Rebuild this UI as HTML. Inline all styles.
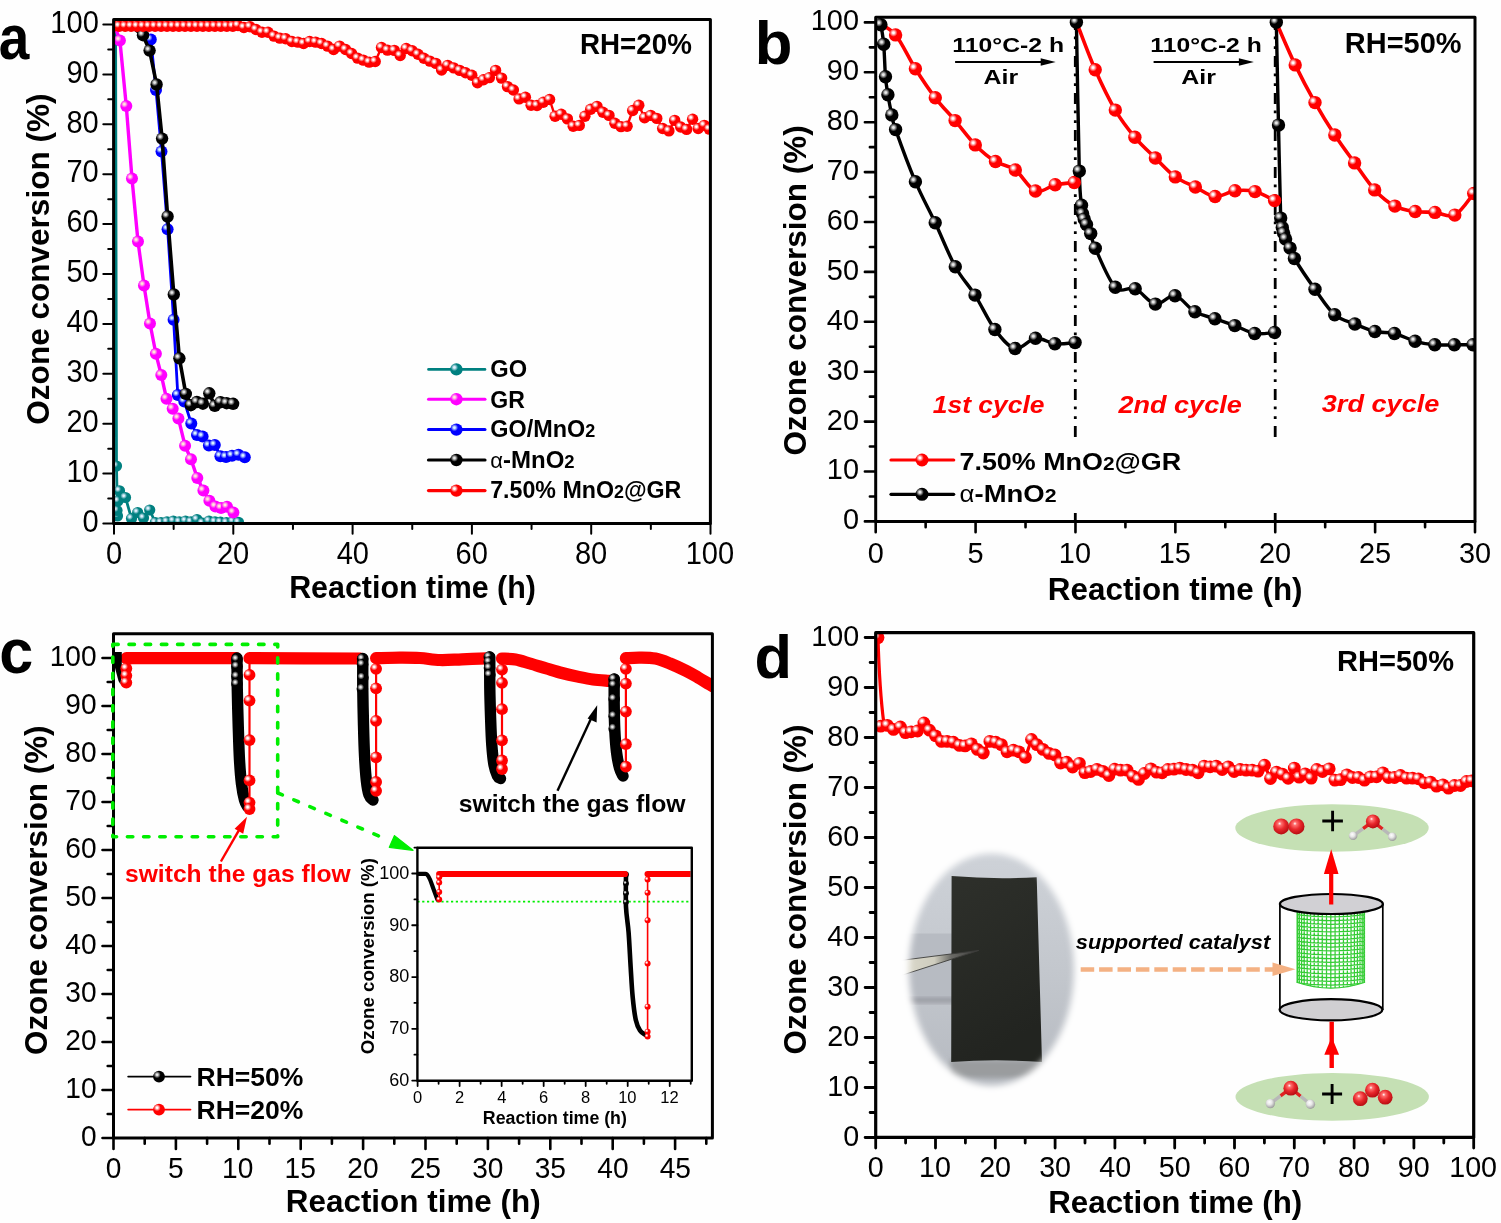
<!DOCTYPE html>
<html><head><meta charset="utf-8"><title>Ozone conversion</title>
<style>html,body{margin:0;padding:0;background:#fff;}svg{display:block;}</style></head>
<body><svg width="1501" height="1223" viewBox="0 0 1501 1223" font-family="'Liberation Sans', Arial, sans-serif">
<defs><radialGradient id="gR" cx="0.34" cy="0.34" r="0.3" fx="0.34" fy="0.34"><stop offset="0" stop-color="#ffffff"/><stop offset="0.22" stop-color="#ffffff"/><stop offset="1" stop-color="#ff0000"/></radialGradient><radialGradient id="gK" cx="0.34" cy="0.34" r="0.3" fx="0.34" fy="0.34"><stop offset="0" stop-color="#e8e8e8"/><stop offset="0.22" stop-color="#e8e8e8"/><stop offset="1" stop-color="#000000"/></radialGradient><radialGradient id="gT" cx="0.34" cy="0.34" r="0.3" fx="0.34" fy="0.34"><stop offset="0" stop-color="#e0f0ff"/><stop offset="0.22" stop-color="#e0f0ff"/><stop offset="1" stop-color="#008080"/></radialGradient><radialGradient id="gM" cx="0.34" cy="0.34" r="0.3" fx="0.34" fy="0.34"><stop offset="0" stop-color="#ffe8d8"/><stop offset="0.22" stop-color="#ffe8d8"/><stop offset="1" stop-color="#ff00ff"/></radialGradient><radialGradient id="gB" cx="0.34" cy="0.34" r="0.3" fx="0.34" fy="0.34"><stop offset="0" stop-color="#d8f4ff"/><stop offset="0.22" stop-color="#d8f4ff"/><stop offset="1" stop-color="#0000ff"/></radialGradient><radialGradient id="gO" cx="0.42" cy="0.38" r="0.62" fx="0.4" fy="0.32"><stop offset="0" stop-color="#ffffff"/><stop offset="0.18" stop-color="#ff7070"/><stop offset="0.55" stop-color="#e8282c"/><stop offset="1" stop-color="#b80c12"/></radialGradient><radialGradient id="gH" cx="0.42" cy="0.38" r="0.62" fx="0.4" fy="0.32"><stop offset="0" stop-color="#ffffff"/><stop offset="0.45" stop-color="#e6e6e6"/><stop offset="1" stop-color="#9a9a9a"/></radialGradient><linearGradient id="gBg" x1="0" y1="0" x2="0" y2="1"><stop offset="0" stop-color="#d0d4da"/><stop offset="0.5" stop-color="#c3c7cd"/><stop offset="1" stop-color="#b3b7be"/></linearGradient><linearGradient id="gTw" x1="0" y1="0" x2="1" y2="0"><stop offset="0" stop-color="#e2e0d2"/><stop offset="0.55" stop-color="#cfcdbf"/><stop offset="0.72" stop-color="#6a6a66"/><stop offset="1" stop-color="#3a3a38"/></linearGradient><linearGradient id="gSh" x1="0" y1="0" x2="0.3" y2="1"><stop offset="0" stop-color="#2e302b"/><stop offset="1" stop-color="#222420"/></linearGradient><filter id="fBl" x="-20%" y="-20%" width="140%" height="140%"><feGaussianBlur stdDeviation="3.2"/></filter><filter id="fBl2" x="-20%" y="-50%" width="140%" height="200%"><feGaussianBlur stdDeviation="2.5"/></filter><mask id="mPh" maskUnits="userSpaceOnUse" x="880" y="830" width="220" height="280"><ellipse cx="991.5" cy="969.5" rx="82.5" ry="116" fill="#fff" filter="url(#fBl)"/></mask><clipPath id="cMesh"><path d="M1296.5,905 V982.3 Q1330.8,994 1365.1,982.3 V905 Z"/></clipPath><clipPath id="cp0"><rect x="113.6" y="19.4" width="596.8" height="504.1"/></clipPath><clipPath id="cp1"><rect x="875.7" y="17.3" width="599.3" height="504.2"/></clipPath><clipPath id="cp2"><rect x="113.5" y="633.8" width="598.9" height="504.20000000000005"/></clipPath><clipPath id="cp3"><rect x="875.7" y="632.7" width="598.0" height="504.70000000000005"/></clipPath></defs>
<rect width="1501" height="1223" fill="#fefefe"/>
<g clip-path="url(#cp0)"><path d="M115.60,24.50 L116.50,466.00 L117.50,516.00 L117.00,510.50 L118.00,501.00 L119.50,490.80 L125.50,497.50 L131.50,518.50 L137.70,512.50 L143.50,518.00 L149.70,510.00 L155.30,522.50 L161.00,522.50 L167.00,521.80 L173.30,521.00 L179.30,521.80 L185.50,521.00 L191.00,521.80 L197.00,519.50 L202.50,523.00 L209.00,521.00 L215.00,521.80 L220.50,522.20 L226.50,522.50 L233.00,521.50 L238.50,522.30" stroke="#008080" stroke-width="2.8" fill="none" stroke-linejoin="round"/><circle cx="116.50" cy="466.00" r="5.6" fill="url(#gT)"/><circle cx="117.50" cy="516.00" r="5.6" fill="url(#gT)"/><circle cx="117.00" cy="510.50" r="5.6" fill="url(#gT)"/><circle cx="118.00" cy="501.00" r="5.6" fill="url(#gT)"/><circle cx="119.50" cy="490.80" r="5.6" fill="url(#gT)"/><circle cx="125.50" cy="497.50" r="5.6" fill="url(#gT)"/><circle cx="131.50" cy="518.50" r="5.6" fill="url(#gT)"/><circle cx="137.70" cy="512.50" r="5.6" fill="url(#gT)"/><circle cx="143.50" cy="518.00" r="5.6" fill="url(#gT)"/><circle cx="149.70" cy="510.00" r="5.6" fill="url(#gT)"/><circle cx="155.30" cy="522.50" r="5.6" fill="url(#gT)"/><circle cx="161.00" cy="522.50" r="5.6" fill="url(#gT)"/><circle cx="167.00" cy="521.80" r="5.6" fill="url(#gT)"/><circle cx="173.30" cy="521.00" r="5.6" fill="url(#gT)"/><circle cx="179.30" cy="521.80" r="5.6" fill="url(#gT)"/><circle cx="185.50" cy="521.00" r="5.6" fill="url(#gT)"/><circle cx="191.00" cy="521.80" r="5.6" fill="url(#gT)"/><circle cx="197.00" cy="519.50" r="5.6" fill="url(#gT)"/><circle cx="202.50" cy="523.00" r="5.6" fill="url(#gT)"/><circle cx="209.00" cy="521.00" r="5.6" fill="url(#gT)"/><circle cx="215.00" cy="521.80" r="5.6" fill="url(#gT)"/><circle cx="220.50" cy="522.20" r="5.6" fill="url(#gT)"/><circle cx="226.50" cy="522.50" r="5.6" fill="url(#gT)"/><circle cx="233.00" cy="521.50" r="5.6" fill="url(#gT)"/><circle cx="238.50" cy="522.30" r="5.6" fill="url(#gT)"/><path d="M114.50,25.00 L119.90,40.50 L126.30,106.10 L132.00,178.60 L138.00,241.50 L144.00,285.50 L150.00,323.50 L155.90,353.80 L161.30,375.10 L166.50,398.70 L172.70,408.70 L178.40,418.40 L185.10,445.80 L191.00,459.30 L197.30,477.90 L203.40,490.50 L209.40,500.80 L215.40,506.50 L221.10,508.00 L227.00,506.80 L233.40,512.60" stroke="#ff00ff" stroke-width="3.4" fill="none" stroke-linejoin="round"/><circle cx="119.90" cy="40.50" r="6.0" fill="url(#gM)"/><circle cx="126.30" cy="106.10" r="6.0" fill="url(#gM)"/><circle cx="132.00" cy="178.60" r="6.0" fill="url(#gM)"/><circle cx="138.00" cy="241.50" r="6.0" fill="url(#gM)"/><circle cx="144.00" cy="285.50" r="6.0" fill="url(#gM)"/><circle cx="150.00" cy="323.50" r="6.0" fill="url(#gM)"/><circle cx="155.90" cy="353.80" r="6.0" fill="url(#gM)"/><circle cx="161.30" cy="375.10" r="6.0" fill="url(#gM)"/><circle cx="166.50" cy="398.70" r="6.0" fill="url(#gM)"/><circle cx="172.70" cy="408.70" r="6.0" fill="url(#gM)"/><circle cx="178.40" cy="418.40" r="6.0" fill="url(#gM)"/><circle cx="185.10" cy="445.80" r="6.0" fill="url(#gM)"/><circle cx="191.00" cy="459.30" r="6.0" fill="url(#gM)"/><circle cx="197.30" cy="477.90" r="6.0" fill="url(#gM)"/><circle cx="203.40" cy="490.50" r="6.0" fill="url(#gM)"/><circle cx="209.40" cy="500.80" r="6.0" fill="url(#gM)"/><circle cx="215.40" cy="506.50" r="6.0" fill="url(#gM)"/><circle cx="221.10" cy="508.00" r="6.0" fill="url(#gM)"/><circle cx="227.00" cy="506.80" r="6.0" fill="url(#gM)"/><circle cx="233.40" cy="512.60" r="6.0" fill="url(#gM)"/><path d="M114.50,25.00 L120.00,25.00 L126.00,25.00 L132.00,25.50 L138.00,27.00 L144.00,31.00 L150.80,39.50 L156.00,90.00 L161.50,151.50 L167.60,229.20 L173.60,319.80 L177.80,395.00 L184.30,401.50 L191.30,423.50 L197.00,435.00 L202.60,436.50 L208.90,445.60 L214.80,445.00 L220.40,456.20 L226.00,457.00 L232.00,455.70 L238.50,454.80 L244.80,457.30" stroke="#0000ff" stroke-width="2.8" fill="none" stroke-linejoin="round"/><circle cx="150.80" cy="39.50" r="6.0" fill="url(#gB)"/><circle cx="156.00" cy="90.00" r="6.0" fill="url(#gB)"/><circle cx="161.50" cy="151.50" r="6.0" fill="url(#gB)"/><circle cx="167.60" cy="229.20" r="6.0" fill="url(#gB)"/><circle cx="173.60" cy="319.80" r="6.0" fill="url(#gB)"/><circle cx="177.80" cy="395.00" r="6.0" fill="url(#gB)"/><circle cx="184.30" cy="401.50" r="6.0" fill="url(#gB)"/><circle cx="191.30" cy="423.50" r="6.0" fill="url(#gB)"/><circle cx="197.00" cy="435.00" r="6.0" fill="url(#gB)"/><circle cx="202.60" cy="436.50" r="6.0" fill="url(#gB)"/><circle cx="208.90" cy="445.60" r="6.0" fill="url(#gB)"/><circle cx="214.80" cy="445.00" r="6.0" fill="url(#gB)"/><circle cx="220.40" cy="456.20" r="6.0" fill="url(#gB)"/><circle cx="226.00" cy="457.00" r="6.0" fill="url(#gB)"/><circle cx="232.00" cy="455.70" r="6.0" fill="url(#gB)"/><circle cx="238.50" cy="454.80" r="6.0" fill="url(#gB)"/><circle cx="244.80" cy="457.30" r="6.0" fill="url(#gB)"/><path d="M114.50,25.00 L120.00,25.00 L126.00,25.00 L132.00,27.00 L143.00,35.20 L149.60,50.60 L156.60,84.50 L162.10,138.60 L167.60,216.50 L173.80,294.50 L179.40,358.30 L185.80,393.90 L190.80,405.20 L196.90,402.00 L202.90,403.70 L209.30,393.30 L214.80,405.90 L220.50,402.20 L226.60,403.20 L233.10,403.80" stroke="#000" stroke-width="3.6" fill="none" stroke-linejoin="round"/><circle cx="143.00" cy="35.20" r="6.2" fill="url(#gK)"/><circle cx="149.60" cy="50.60" r="6.2" fill="url(#gK)"/><circle cx="156.60" cy="84.50" r="6.2" fill="url(#gK)"/><circle cx="162.10" cy="138.60" r="6.2" fill="url(#gK)"/><circle cx="167.60" cy="216.50" r="6.2" fill="url(#gK)"/><circle cx="173.80" cy="294.50" r="6.2" fill="url(#gK)"/><circle cx="179.40" cy="358.30" r="6.2" fill="url(#gK)"/><circle cx="185.80" cy="393.90" r="6.2" fill="url(#gK)"/><circle cx="190.80" cy="405.20" r="6.2" fill="url(#gK)"/><circle cx="196.90" cy="402.00" r="6.2" fill="url(#gK)"/><circle cx="202.90" cy="403.70" r="6.2" fill="url(#gK)"/><circle cx="209.30" cy="393.30" r="6.2" fill="url(#gK)"/><circle cx="214.80" cy="405.90" r="6.2" fill="url(#gK)"/><circle cx="220.50" cy="402.20" r="6.2" fill="url(#gK)"/><circle cx="226.60" cy="403.20" r="6.2" fill="url(#gK)"/><circle cx="233.10" cy="403.80" r="6.2" fill="url(#gK)"/><path d="M113.20,26.30 L119.18,26.30 L125.16,26.30 L131.14,26.30 L137.12,26.30 L143.10,26.30 L149.08,26.30 L155.06,26.30 L161.04,26.30 L167.02,26.30 L173.00,26.30 L178.98,26.30 L184.96,26.30 L190.94,26.30 L196.92,26.30 L202.90,26.30 L208.88,26.30 L214.86,26.30 L220.84,26.30 L226.82,26.30 L232.80,26.30 L238.00,25.50 L243.90,27.50 L250.00,26.80 L256.00,29.50 L262.00,32.20 L268.00,32.20 L274.00,36.10 L279.90,38.10 L285.70,38.80 L291.90,41.50 L297.90,42.10 L303.60,43.50 L309.60,41.50 L315.60,42.10 L321.60,43.50 L327.60,46.10 L333.60,49.50 L339.60,46.10 L345.60,49.50 L351.60,53.50 L357.60,58.10 L363.30,60.10 L369.20,62.10 L375.20,61.50 L381.50,47.50 L387.50,50.10 L394.30,50.40 L400.20,55.50 L406.20,48.50 L412.20,50.70 L418.00,54.30 L423.90,58.30 L429.90,61.10 L435.90,63.40 L441.60,70.00 L447.70,65.40 L453.70,67.90 L459.70,70.40 L465.60,72.70 L471.80,75.30 L477.50,82.70 L483.50,79.80 L489.40,77.60 L495.60,70.40 L501.60,78.10 L507.50,86.60 L513.40,90.00 L519.10,98.90 L525.40,97.20 L531.10,105.30 L537.00,105.50 L543.30,102.20 L549.60,99.50 L555.10,116.30 L561.20,114.20 L567.40,118.90 L573.20,126.20 L579.30,125.40 L584.90,116.30 L590.70,109.30 L597.00,106.40 L602.90,112.20 L609.00,115.40 L614.90,123.30 L621.00,126.60 L627.10,126.20 L632.70,110.50 L638.80,105.20 L644.60,117.70 L650.70,115.40 L656.80,118.40 L662.70,128.50 L668.90,130.90 L674.70,120.40 L680.70,127.00 L686.60,129.40 L692.60,119.20 L698.20,128.50 L704.30,125.40 L709.30,129.10" stroke="#ff0000" stroke-width="2.4" fill="none" stroke-linejoin="round"/><circle cx="113.20" cy="26.30" r="5.7" fill="url(#gR)"/><circle cx="119.18" cy="26.30" r="5.7" fill="url(#gR)"/><circle cx="125.16" cy="26.30" r="5.7" fill="url(#gR)"/><circle cx="131.14" cy="26.30" r="5.7" fill="url(#gR)"/><circle cx="137.12" cy="26.30" r="5.7" fill="url(#gR)"/><circle cx="143.10" cy="26.30" r="5.7" fill="url(#gR)"/><circle cx="149.08" cy="26.30" r="5.7" fill="url(#gR)"/><circle cx="155.06" cy="26.30" r="5.7" fill="url(#gR)"/><circle cx="161.04" cy="26.30" r="5.7" fill="url(#gR)"/><circle cx="167.02" cy="26.30" r="5.7" fill="url(#gR)"/><circle cx="173.00" cy="26.30" r="5.7" fill="url(#gR)"/><circle cx="178.98" cy="26.30" r="5.7" fill="url(#gR)"/><circle cx="184.96" cy="26.30" r="5.7" fill="url(#gR)"/><circle cx="190.94" cy="26.30" r="5.7" fill="url(#gR)"/><circle cx="196.92" cy="26.30" r="5.7" fill="url(#gR)"/><circle cx="202.90" cy="26.30" r="5.7" fill="url(#gR)"/><circle cx="208.88" cy="26.30" r="5.7" fill="url(#gR)"/><circle cx="214.86" cy="26.30" r="5.7" fill="url(#gR)"/><circle cx="220.84" cy="26.30" r="5.7" fill="url(#gR)"/><circle cx="226.82" cy="26.30" r="5.7" fill="url(#gR)"/><circle cx="232.80" cy="26.30" r="5.7" fill="url(#gR)"/><circle cx="238.00" cy="25.50" r="5.7" fill="url(#gR)"/><circle cx="243.90" cy="27.50" r="5.7" fill="url(#gR)"/><circle cx="250.00" cy="26.80" r="5.7" fill="url(#gR)"/><circle cx="256.00" cy="29.50" r="5.7" fill="url(#gR)"/><circle cx="262.00" cy="32.20" r="5.7" fill="url(#gR)"/><circle cx="268.00" cy="32.20" r="5.7" fill="url(#gR)"/><circle cx="274.00" cy="36.10" r="5.7" fill="url(#gR)"/><circle cx="279.90" cy="38.10" r="5.7" fill="url(#gR)"/><circle cx="285.70" cy="38.80" r="5.7" fill="url(#gR)"/><circle cx="291.90" cy="41.50" r="5.7" fill="url(#gR)"/><circle cx="297.90" cy="42.10" r="5.7" fill="url(#gR)"/><circle cx="303.60" cy="43.50" r="5.7" fill="url(#gR)"/><circle cx="309.60" cy="41.50" r="5.7" fill="url(#gR)"/><circle cx="315.60" cy="42.10" r="5.7" fill="url(#gR)"/><circle cx="321.60" cy="43.50" r="5.7" fill="url(#gR)"/><circle cx="327.60" cy="46.10" r="5.7" fill="url(#gR)"/><circle cx="333.60" cy="49.50" r="5.7" fill="url(#gR)"/><circle cx="339.60" cy="46.10" r="5.7" fill="url(#gR)"/><circle cx="345.60" cy="49.50" r="5.7" fill="url(#gR)"/><circle cx="351.60" cy="53.50" r="5.7" fill="url(#gR)"/><circle cx="357.60" cy="58.10" r="5.7" fill="url(#gR)"/><circle cx="363.30" cy="60.10" r="5.7" fill="url(#gR)"/><circle cx="369.20" cy="62.10" r="5.7" fill="url(#gR)"/><circle cx="375.20" cy="61.50" r="5.7" fill="url(#gR)"/><circle cx="381.50" cy="47.50" r="5.7" fill="url(#gR)"/><circle cx="387.50" cy="50.10" r="5.7" fill="url(#gR)"/><circle cx="394.30" cy="50.40" r="5.7" fill="url(#gR)"/><circle cx="400.20" cy="55.50" r="5.7" fill="url(#gR)"/><circle cx="406.20" cy="48.50" r="5.7" fill="url(#gR)"/><circle cx="412.20" cy="50.70" r="5.7" fill="url(#gR)"/><circle cx="418.00" cy="54.30" r="5.7" fill="url(#gR)"/><circle cx="423.90" cy="58.30" r="5.7" fill="url(#gR)"/><circle cx="429.90" cy="61.10" r="5.7" fill="url(#gR)"/><circle cx="435.90" cy="63.40" r="5.7" fill="url(#gR)"/><circle cx="441.60" cy="70.00" r="5.7" fill="url(#gR)"/><circle cx="447.70" cy="65.40" r="5.7" fill="url(#gR)"/><circle cx="453.70" cy="67.90" r="5.7" fill="url(#gR)"/><circle cx="459.70" cy="70.40" r="5.7" fill="url(#gR)"/><circle cx="465.60" cy="72.70" r="5.7" fill="url(#gR)"/><circle cx="471.80" cy="75.30" r="5.7" fill="url(#gR)"/><circle cx="477.50" cy="82.70" r="5.7" fill="url(#gR)"/><circle cx="483.50" cy="79.80" r="5.7" fill="url(#gR)"/><circle cx="489.40" cy="77.60" r="5.7" fill="url(#gR)"/><circle cx="495.60" cy="70.40" r="5.7" fill="url(#gR)"/><circle cx="501.60" cy="78.10" r="5.7" fill="url(#gR)"/><circle cx="507.50" cy="86.60" r="5.7" fill="url(#gR)"/><circle cx="513.40" cy="90.00" r="5.7" fill="url(#gR)"/><circle cx="519.10" cy="98.90" r="5.7" fill="url(#gR)"/><circle cx="525.40" cy="97.20" r="5.7" fill="url(#gR)"/><circle cx="531.10" cy="105.30" r="5.7" fill="url(#gR)"/><circle cx="537.00" cy="105.50" r="5.7" fill="url(#gR)"/><circle cx="543.30" cy="102.20" r="5.7" fill="url(#gR)"/><circle cx="549.60" cy="99.50" r="5.7" fill="url(#gR)"/><circle cx="555.10" cy="116.30" r="5.7" fill="url(#gR)"/><circle cx="561.20" cy="114.20" r="5.7" fill="url(#gR)"/><circle cx="567.40" cy="118.90" r="5.7" fill="url(#gR)"/><circle cx="573.20" cy="126.20" r="5.7" fill="url(#gR)"/><circle cx="579.30" cy="125.40" r="5.7" fill="url(#gR)"/><circle cx="584.90" cy="116.30" r="5.7" fill="url(#gR)"/><circle cx="590.70" cy="109.30" r="5.7" fill="url(#gR)"/><circle cx="597.00" cy="106.40" r="5.7" fill="url(#gR)"/><circle cx="602.90" cy="112.20" r="5.7" fill="url(#gR)"/><circle cx="609.00" cy="115.40" r="5.7" fill="url(#gR)"/><circle cx="614.90" cy="123.30" r="5.7" fill="url(#gR)"/><circle cx="621.00" cy="126.60" r="5.7" fill="url(#gR)"/><circle cx="627.10" cy="126.20" r="5.7" fill="url(#gR)"/><circle cx="632.70" cy="110.50" r="5.7" fill="url(#gR)"/><circle cx="638.80" cy="105.20" r="5.7" fill="url(#gR)"/><circle cx="644.60" cy="117.70" r="5.7" fill="url(#gR)"/><circle cx="650.70" cy="115.40" r="5.7" fill="url(#gR)"/><circle cx="656.80" cy="118.40" r="5.7" fill="url(#gR)"/><circle cx="662.70" cy="128.50" r="5.7" fill="url(#gR)"/><circle cx="668.90" cy="130.90" r="5.7" fill="url(#gR)"/><circle cx="674.70" cy="120.40" r="5.7" fill="url(#gR)"/><circle cx="680.70" cy="127.00" r="5.7" fill="url(#gR)"/><circle cx="686.60" cy="129.40" r="5.7" fill="url(#gR)"/><circle cx="692.60" cy="119.20" r="5.7" fill="url(#gR)"/><circle cx="698.20" cy="128.50" r="5.7" fill="url(#gR)"/><circle cx="704.30" cy="125.40" r="5.7" fill="url(#gR)"/><circle cx="709.30" cy="129.10" r="5.7" fill="url(#gR)"/></g><g clip-path="url(#cp1)"><path d="M1075.3,19 V437.5 M1075.3,513 V520" stroke="#000" stroke-width="2.8" stroke-dasharray="11 6.4 2.8 7 2.8 7" fill="none"/><path d="M1275.2,19 V437.5 M1275.2,513 V520" stroke="#000" stroke-width="2.8" stroke-dasharray="11 6.4 2.8 7 2.8 7" fill="none"/><path d="M880.90,24.80 C881.37,28.03 882.93,35.53 883.70,44.20 C884.47,52.87 884.80,68.38 885.50,76.80 C886.20,85.22 886.85,88.35 887.90,94.70 C888.95,101.05 890.52,109.08 891.80,114.90 C893.08,120.72 891.67,118.47 895.60,129.60 C899.53,140.73 908.80,166.17 915.40,181.70 C922.00,197.23 928.55,208.63 935.20,222.80 C941.85,236.97 948.67,254.65 955.30,266.70 C961.93,278.75 968.40,284.63 975.00,295.10 C981.60,305.57 988.22,320.60 994.90,329.50 C1001.58,338.40 1008.33,347.03 1015.10,348.50 C1021.87,349.97 1028.87,339.10 1035.50,338.30 C1042.13,337.50 1048.30,342.98 1054.90,343.70 C1061.50,344.42 1071.73,342.78 1075.10,342.60" stroke="#000" stroke-width="3.4" fill="none"/><path d="M1076.40,22.30 C1076.88,47.10 1078.45,140.60 1079.30,171.10 C1080.15,201.60 1080.95,198.20 1081.50,205.30 C1082.05,212.40 1082.15,211.40 1082.60,213.70 C1083.05,216.00 1083.55,217.32 1084.20,219.10 C1084.85,220.88 1085.42,221.98 1086.50,224.40 C1087.58,226.82 1089.23,229.63 1090.70,233.60 C1092.17,237.57 1091.20,239.25 1095.30,248.20 C1099.40,257.15 1108.65,280.53 1115.30,287.30 C1121.95,294.07 1128.52,286.00 1135.20,288.80 C1141.88,291.60 1148.77,302.95 1155.40,304.10 C1162.03,305.25 1168.42,294.42 1175.00,295.70 C1181.58,296.98 1188.25,307.97 1194.90,311.80 C1201.55,315.63 1208.25,316.40 1214.90,318.70 C1221.55,321.00 1228.17,323.13 1234.80,325.60 C1241.43,328.07 1248.07,332.35 1254.70,333.50 C1261.33,334.65 1271.28,332.67 1274.60,332.50" stroke="#000" stroke-width="3.4" fill="none"/><path d="M1276.30,22.30 C1276.67,39.43 1277.77,92.47 1278.50,125.10 C1279.23,157.73 1280.07,201.03 1280.70,218.10 C1281.33,235.17 1281.82,225.02 1282.30,227.50 C1282.78,229.98 1283.05,231.10 1283.60,233.00 C1284.15,234.90 1284.52,236.38 1285.60,238.90 C1286.68,241.42 1288.63,244.83 1290.10,248.10 C1291.57,251.37 1290.25,251.63 1294.40,258.50 C1298.55,265.37 1308.28,279.92 1315.00,289.30 C1321.72,298.68 1328.05,309.02 1334.70,314.80 C1341.35,320.58 1348.20,321.22 1354.90,324.00 C1361.60,326.78 1368.30,329.92 1374.90,331.50 C1381.50,333.08 1387.80,331.87 1394.50,333.50 C1401.20,335.13 1408.38,339.42 1415.10,341.30 C1421.82,343.18 1428.25,344.22 1434.80,344.80 C1441.35,345.38 1448.03,344.80 1454.40,344.80 C1460.77,344.80 1469.90,344.80 1473.00,344.80" stroke="#000" stroke-width="3.4" fill="none"/><path d="M878.50,23.50 C881.35,25.40 889.45,27.37 895.60,34.90 C901.75,42.43 908.78,58.22 915.40,68.70 C922.02,79.18 928.68,89.15 935.30,97.80 C941.92,106.45 948.43,112.75 955.10,120.60 C961.77,128.45 968.57,138.08 975.30,144.90 C982.03,151.72 988.83,157.32 995.50,161.50 C1002.17,165.68 1008.63,165.08 1015.30,170.00 C1021.97,174.92 1028.85,188.53 1035.50,191.00 C1042.15,193.47 1048.73,186.22 1055.20,184.80 C1061.67,183.38 1071.12,182.88 1074.30,182.50" stroke="#ff0000" stroke-width="3.6" fill="none"/><path d="M1078.00,26.00 C1080.87,33.28 1088.98,55.68 1095.20,69.70 C1101.42,83.72 1108.68,98.83 1115.30,110.10 C1121.92,121.37 1128.22,129.32 1134.90,137.30 C1141.58,145.28 1148.67,151.40 1155.40,158.00 C1162.13,164.60 1168.63,172.07 1175.30,176.90 C1181.97,181.73 1188.77,183.73 1195.40,187.00 C1202.03,190.27 1208.50,195.87 1215.10,196.50 C1221.70,197.13 1228.35,191.62 1235.00,190.80 C1241.65,189.98 1248.40,189.97 1255.00,191.60 C1261.60,193.23 1271.33,199.10 1274.60,200.60" stroke="#ff0000" stroke-width="3.6" fill="none"/><path d="M1277.50,25.00 C1280.45,31.65 1288.95,51.97 1295.20,64.90 C1301.45,77.83 1308.40,90.92 1315.00,102.60 C1321.60,114.28 1328.20,124.95 1334.80,135.00 C1341.40,145.05 1347.95,153.75 1354.60,162.90 C1361.25,172.05 1367.98,182.70 1374.70,189.90 C1381.42,197.10 1388.15,202.50 1394.90,206.10 C1401.65,209.70 1408.52,210.45 1415.20,211.50 C1421.88,212.55 1428.40,211.80 1435.00,212.40 C1441.60,213.00 1448.35,218.25 1454.80,215.10 C1461.25,211.95 1470.55,197.10 1473.70,193.50" stroke="#ff0000" stroke-width="3.6" fill="none"/><circle cx="895.60" cy="34.90" r="6.7" fill="url(#gR)"/><circle cx="915.40" cy="68.70" r="6.7" fill="url(#gR)"/><circle cx="935.30" cy="97.80" r="6.7" fill="url(#gR)"/><circle cx="955.10" cy="120.60" r="6.7" fill="url(#gR)"/><circle cx="975.30" cy="144.90" r="6.7" fill="url(#gR)"/><circle cx="995.50" cy="161.50" r="6.7" fill="url(#gR)"/><circle cx="1015.30" cy="170.00" r="6.7" fill="url(#gR)"/><circle cx="1035.50" cy="191.00" r="6.7" fill="url(#gR)"/><circle cx="1055.20" cy="184.80" r="6.7" fill="url(#gR)"/><circle cx="1074.30" cy="182.50" r="6.7" fill="url(#gR)"/><circle cx="1095.20" cy="69.70" r="6.7" fill="url(#gR)"/><circle cx="1115.30" cy="110.10" r="6.7" fill="url(#gR)"/><circle cx="1134.90" cy="137.30" r="6.7" fill="url(#gR)"/><circle cx="1155.40" cy="158.00" r="6.7" fill="url(#gR)"/><circle cx="1175.30" cy="176.90" r="6.7" fill="url(#gR)"/><circle cx="1195.40" cy="187.00" r="6.7" fill="url(#gR)"/><circle cx="1215.10" cy="196.50" r="6.7" fill="url(#gR)"/><circle cx="1235.00" cy="190.80" r="6.7" fill="url(#gR)"/><circle cx="1255.00" cy="191.60" r="6.7" fill="url(#gR)"/><circle cx="1274.60" cy="200.60" r="6.7" fill="url(#gR)"/><circle cx="1295.20" cy="64.90" r="6.7" fill="url(#gR)"/><circle cx="1315.00" cy="102.60" r="6.7" fill="url(#gR)"/><circle cx="1334.80" cy="135.00" r="6.7" fill="url(#gR)"/><circle cx="1354.60" cy="162.90" r="6.7" fill="url(#gR)"/><circle cx="1374.70" cy="189.90" r="6.7" fill="url(#gR)"/><circle cx="1394.90" cy="206.10" r="6.7" fill="url(#gR)"/><circle cx="1415.20" cy="211.50" r="6.7" fill="url(#gR)"/><circle cx="1435.00" cy="212.40" r="6.7" fill="url(#gR)"/><circle cx="1454.80" cy="215.10" r="6.7" fill="url(#gR)"/><circle cx="1473.70" cy="193.50" r="6.7" fill="url(#gR)"/><circle cx="880.90" cy="24.80" r="6.7" fill="url(#gK)"/><circle cx="883.70" cy="44.20" r="6.7" fill="url(#gK)"/><circle cx="885.50" cy="76.80" r="6.7" fill="url(#gK)"/><circle cx="887.90" cy="94.70" r="6.7" fill="url(#gK)"/><circle cx="891.80" cy="114.90" r="6.7" fill="url(#gK)"/><circle cx="895.60" cy="129.60" r="6.7" fill="url(#gK)"/><circle cx="915.40" cy="181.70" r="6.7" fill="url(#gK)"/><circle cx="935.20" cy="222.80" r="6.7" fill="url(#gK)"/><circle cx="955.30" cy="266.70" r="6.7" fill="url(#gK)"/><circle cx="975.00" cy="295.10" r="6.7" fill="url(#gK)"/><circle cx="994.90" cy="329.50" r="6.7" fill="url(#gK)"/><circle cx="1015.10" cy="348.50" r="6.7" fill="url(#gK)"/><circle cx="1035.50" cy="338.30" r="6.7" fill="url(#gK)"/><circle cx="1054.90" cy="343.70" r="6.7" fill="url(#gK)"/><circle cx="1075.10" cy="342.60" r="6.7" fill="url(#gK)"/><circle cx="1076.40" cy="22.30" r="6.7" fill="url(#gK)"/><circle cx="1079.30" cy="171.10" r="6.7" fill="url(#gK)"/><circle cx="1081.50" cy="205.30" r="6.7" fill="url(#gK)"/><circle cx="1082.60" cy="213.70" r="6.7" fill="url(#gK)"/><circle cx="1084.20" cy="219.10" r="6.7" fill="url(#gK)"/><circle cx="1086.50" cy="224.40" r="6.7" fill="url(#gK)"/><circle cx="1090.70" cy="233.60" r="6.7" fill="url(#gK)"/><circle cx="1095.30" cy="248.20" r="6.7" fill="url(#gK)"/><circle cx="1115.30" cy="287.30" r="6.7" fill="url(#gK)"/><circle cx="1135.20" cy="288.80" r="6.7" fill="url(#gK)"/><circle cx="1155.40" cy="304.10" r="6.7" fill="url(#gK)"/><circle cx="1175.00" cy="295.70" r="6.7" fill="url(#gK)"/><circle cx="1194.90" cy="311.80" r="6.7" fill="url(#gK)"/><circle cx="1214.90" cy="318.70" r="6.7" fill="url(#gK)"/><circle cx="1234.80" cy="325.60" r="6.7" fill="url(#gK)"/><circle cx="1254.70" cy="333.50" r="6.7" fill="url(#gK)"/><circle cx="1274.60" cy="332.50" r="6.7" fill="url(#gK)"/><circle cx="1276.30" cy="22.30" r="6.7" fill="url(#gK)"/><circle cx="1278.50" cy="125.10" r="6.7" fill="url(#gK)"/><circle cx="1280.70" cy="218.10" r="6.7" fill="url(#gK)"/><circle cx="1282.30" cy="227.50" r="6.7" fill="url(#gK)"/><circle cx="1283.60" cy="233.00" r="6.7" fill="url(#gK)"/><circle cx="1285.60" cy="238.90" r="6.7" fill="url(#gK)"/><circle cx="1290.10" cy="248.10" r="6.7" fill="url(#gK)"/><circle cx="1294.40" cy="258.50" r="6.7" fill="url(#gK)"/><circle cx="1315.00" cy="289.30" r="6.7" fill="url(#gK)"/><circle cx="1334.70" cy="314.80" r="6.7" fill="url(#gK)"/><circle cx="1354.90" cy="324.00" r="6.7" fill="url(#gK)"/><circle cx="1374.90" cy="331.50" r="6.7" fill="url(#gK)"/><circle cx="1394.50" cy="333.50" r="6.7" fill="url(#gK)"/><circle cx="1415.10" cy="341.30" r="6.7" fill="url(#gK)"/><circle cx="1434.80" cy="344.80" r="6.7" fill="url(#gK)"/><circle cx="1454.40" cy="344.80" r="6.7" fill="url(#gK)"/><circle cx="1473.00" cy="344.80" r="6.7" fill="url(#gK)"/></g><g clip-path="url(#cp2)"><path d="M126.30,658.20 C144.63,658.20 217.97,658.20 236.30,658.20" stroke="#ff0000" stroke-width="12.2" stroke-linecap="round" stroke-linejoin="round" fill="none"/><path d="M249.50,658.20 C268.00,658.25 342.00,658.45 360.50,658.50" stroke="#ff0000" stroke-width="12.2" stroke-linecap="round" stroke-linejoin="round" fill="none"/><path d="M376.10,658.20 C380.08,658.10 392.68,657.63 400.00,657.60 C407.32,657.57 413.33,657.60 420.00,658.00 C426.67,658.40 433.00,659.78 440.00,660.00 C447.00,660.22 454.17,659.57 462.00,659.30 C469.83,659.03 482.83,658.55 487.00,658.40" stroke="#ff0000" stroke-width="12.2" stroke-linecap="round" stroke-linejoin="round" fill="none"/><path d="M502.00,658.50 C504.25,658.67 510.83,658.67 515.50,659.50 C520.17,660.33 524.82,662.00 530.00,663.50 C535.18,665.00 541.27,666.92 546.60,668.50 C551.93,670.08 556.82,671.65 562.00,673.00 C567.18,674.35 572.53,675.52 577.70,676.60 C582.87,677.68 587.82,678.80 593.00,679.50 C598.18,680.20 605.63,680.55 608.80,680.80 C611.97,681.05 611.47,680.97 612.00,681.00" stroke="#ff0000" stroke-width="12.2" stroke-linecap="round" stroke-linejoin="round" fill="none"/><path d="M625.90,658.20 C628.25,658.10 635.08,657.53 640.00,657.60 C644.92,657.67 650.40,657.62 655.40,658.60 C660.40,659.58 664.83,661.43 670.00,663.50 C675.17,665.57 681.73,668.67 686.40,671.00 C691.07,673.33 694.10,675.23 698.00,677.50 C701.90,679.77 706.80,682.85 709.80,684.60 C712.80,686.35 714.97,687.43 716.00,688.00" stroke="#ff0000" stroke-width="12.2" stroke-linecap="round" stroke-linejoin="round" fill="none"/><path d="M114,652 L121.8,652 L121.8,668 L120.6,684.5 L118.5,681 L114,664 Z" fill="#000"/><path d="M237.00,658.00 C237.05,663.33 237.08,678.33 237.30,690.00 C237.52,701.67 237.93,716.33 238.30,728.00 C238.67,739.67 238.97,750.67 239.50,760.00 C240.03,769.33 240.67,777.33 241.50,784.00 C242.33,790.67 243.50,796.25 244.50,800.00 C245.50,803.75 247.00,805.42 247.50,806.50" stroke="#000" stroke-width="11.4" stroke-linecap="round" stroke-linejoin="round" fill="none"/><path d="M362.80,658.50 C362.80,663.75 362.68,678.92 362.80,690.00 C362.92,701.08 363.22,714.17 363.50,725.00 C363.78,735.83 364.03,745.83 364.50,755.00 C364.97,764.17 365.55,773.33 366.30,780.00 C367.05,786.67 367.88,791.67 369.00,795.00 C370.12,798.33 372.33,799.17 373.00,800.00" stroke="#000" stroke-width="11.4" stroke-linecap="round" stroke-linejoin="round" fill="none"/><path d="M489.80,657.00 C489.80,662.17 489.67,677.83 489.80,688.00 C489.93,698.17 490.27,708.50 490.60,718.00 C490.93,727.50 491.23,737.17 491.80,745.00 C492.37,752.83 493.05,759.83 494.00,765.00 C494.95,770.17 496.42,773.75 497.50,776.00 C498.58,778.25 500.00,778.08 500.50,778.50" stroke="#000" stroke-width="11.4" stroke-linecap="round" stroke-linejoin="round" fill="none"/><path d="M614.20,679.00 C614.20,683.33 614.10,696.50 614.20,705.00 C614.30,713.50 614.42,722.17 614.80,730.00 C615.18,737.83 615.72,745.67 616.50,752.00 C617.28,758.33 618.42,764.00 619.50,768.00 C620.58,772.00 622.42,774.67 623.00,776.00" stroke="#000" stroke-width="11.4" stroke-linecap="round" stroke-linejoin="round" fill="none"/><circle cx="237.00" cy="659.50" r="5.8" fill="url(#gK)"/><circle cx="237.00" cy="666.50" r="5.8" fill="url(#gK)"/><circle cx="237.00" cy="676.50" r="5.8" fill="url(#gK)"/><circle cx="237.00" cy="684.00" r="5.8" fill="url(#gK)"/><circle cx="362.60" cy="659.00" r="5.8" fill="url(#gK)"/><circle cx="362.60" cy="664.50" r="5.8" fill="url(#gK)"/><circle cx="362.90" cy="677.80" r="5.8" fill="url(#gK)"/><circle cx="362.40" cy="689.00" r="5.8" fill="url(#gK)"/><circle cx="489.30" cy="657.00" r="5.8" fill="url(#gK)"/><circle cx="489.30" cy="662.00" r="5.8" fill="url(#gK)"/><circle cx="489.50" cy="668.00" r="5.8" fill="url(#gK)"/><circle cx="489.80" cy="675.00" r="5.8" fill="url(#gK)"/><circle cx="614.20" cy="679.20" r="5.8" fill="url(#gK)"/><circle cx="614.20" cy="685.20" r="5.8" fill="url(#gK)"/><circle cx="614.20" cy="699.10" r="5.8" fill="url(#gK)"/><circle cx="614.20" cy="716.20" r="5.8" fill="url(#gK)"/><circle cx="614.20" cy="728.70" r="5.8" fill="url(#gK)"/><path d="M126.3,682.6 V658.2" stroke="#ff0000" stroke-width="2.2"/><path d="M249.5,810 V658.2" stroke="#ff0000" stroke-width="2.2"/><path d="M376.1,791.6 V658.2" stroke="#ff0000" stroke-width="2.2"/><path d="M502.0,769.8 V658.5" stroke="#ff0000" stroke-width="2.2"/><path d="M625.9,766.7 V658.2" stroke="#ff0000" stroke-width="2.2"/><circle cx="126.30" cy="668.50" r="5.9" fill="url(#gR)"/><circle cx="126.30" cy="675.60" r="5.9" fill="url(#gR)"/><circle cx="126.30" cy="682.60" r="5.9" fill="url(#gR)"/><circle cx="249.50" cy="674.90" r="5.9" fill="url(#gR)"/><circle cx="249.50" cy="700.60" r="5.9" fill="url(#gR)"/><circle cx="249.50" cy="740.10" r="5.9" fill="url(#gR)"/><circle cx="249.50" cy="780.40" r="5.9" fill="url(#gR)"/><circle cx="249.50" cy="802.60" r="5.9" fill="url(#gR)"/><circle cx="249.50" cy="809.00" r="5.9" fill="url(#gR)"/><circle cx="376.10" cy="668.80" r="5.9" fill="url(#gR)"/><circle cx="376.10" cy="688.30" r="5.9" fill="url(#gR)"/><circle cx="376.10" cy="720.90" r="5.9" fill="url(#gR)"/><circle cx="376.10" cy="757.40" r="5.9" fill="url(#gR)"/><circle cx="376.10" cy="782.00" r="5.9" fill="url(#gR)"/><circle cx="376.10" cy="790.80" r="5.9" fill="url(#gR)"/><circle cx="502.00" cy="669.60" r="5.9" fill="url(#gR)"/><circle cx="502.00" cy="682.80" r="5.9" fill="url(#gR)"/><circle cx="502.00" cy="709.20" r="5.9" fill="url(#gR)"/><circle cx="502.00" cy="740.30" r="5.9" fill="url(#gR)"/><circle cx="502.00" cy="760.50" r="5.9" fill="url(#gR)"/><circle cx="502.00" cy="769.00" r="5.9" fill="url(#gR)"/><circle cx="625.90" cy="668.80" r="5.9" fill="url(#gR)"/><circle cx="625.90" cy="683.60" r="5.9" fill="url(#gR)"/><circle cx="625.90" cy="711.60" r="5.9" fill="url(#gR)"/><circle cx="625.90" cy="744.20" r="5.9" fill="url(#gR)"/><circle cx="625.90" cy="766.70" r="5.9" fill="url(#gR)"/></g><g clip-path="url(#cp3)"><g mask="url(#mPh)"><rect x="880" y="830" width="220" height="280" fill="url(#gBg)"/><rect x="880" y="933.5" width="75" height="67" fill="#b7bbc2"/><rect x="880" y="998.5" width="75" height="4" fill="#8d9096" filter="url(#fBl2)"/><rect x="950" y="1060" width="94" height="18" fill="#9a9c9e" filter="url(#fBl2)"/><path d="M951.6,876.1 Q994,879.5 1036.7,877.2 L1042,1062.1 Q996,1058.5 951.2,1062.1 Z" fill="url(#gSh)"/><path d="M880,963.1 L978.9,950.4 L880,982.3 Z" fill="url(#gTw)" stroke="#3c3c3a" stroke-width="0.9" stroke-linejoin="round"/></g><ellipse cx="1332" cy="828" rx="96.7" ry="23.8" fill="#c5e0b4"/><ellipse cx="1332.2" cy="1096.9" rx="96.7" ry="23.8" fill="#c5e0b4"/><rect x="1279.9" y="904" width="102.9" height="106" fill="#ffffff"/><path d="M1279.9,904 V1010 M1382.8,904 V1010" stroke="#000" stroke-width="1.7"/><ellipse cx="1331" cy="1009.8" rx="51.4" ry="10.6" fill="#d0cfd2" stroke="#000" stroke-width="2.2"/><g clip-path="url(#cMesh)"><path d="M1296.50,905 V995 M1297.70,905 V995 M1299.40,905 V995 M1301.57,905 V995 M1304.18,905 V995 M1307.19,905 V995 M1310.56,905 V995 M1314.23,905 V995 M1318.15,905 V995 M1322.26,905 V995 M1326.50,905 V995 M1330.80,905 V995 M1335.10,905 V995 M1339.34,905 V995 M1343.45,905 V995 M1347.37,905 V995 M1351.04,905 V995 M1354.41,905 V995 M1357.42,905 V995 M1360.03,905 V995 M1362.20,905 V995 M1363.90,905 V995 M1365.10,905 V995 M1296,914.50 Q1330.8,919.00 1366,914.50 M1296,918.30 Q1330.8,922.80 1366,918.30 M1296,922.10 Q1330.8,926.60 1366,922.10 M1296,925.90 Q1330.8,930.40 1366,925.90 M1296,929.70 Q1330.8,934.20 1366,929.70 M1296,933.50 Q1330.8,938.00 1366,933.50 M1296,937.30 Q1330.8,941.80 1366,937.30 M1296,941.10 Q1330.8,945.60 1366,941.10 M1296,944.90 Q1330.8,949.40 1366,944.90 M1296,948.70 Q1330.8,953.20 1366,948.70 M1296,952.50 Q1330.8,957.00 1366,952.50 M1296,956.30 Q1330.8,960.80 1366,956.30 M1296,960.10 Q1330.8,964.60 1366,960.10 M1296,963.90 Q1330.8,968.40 1366,963.90 M1296,967.70 Q1330.8,972.20 1366,967.70 M1296,971.50 Q1330.8,976.00 1366,971.50 M1296,975.30 Q1330.8,979.80 1366,975.30 M1296,979.10 Q1330.8,983.60 1366,979.10 M1296,982.90 Q1330.8,987.40 1366,982.90 M1296,986.70 Q1330.8,991.20 1366,986.70 M1296,990.50 Q1330.8,995.00 1366,990.50" stroke="#33cc33" stroke-width="1.25" fill="none"/></g><path d="M1296.5,982.3 Q1330.8,994 1365.1,982.3" stroke="#33cc33" stroke-width="1.2" fill="none"/><ellipse cx="1331.4" cy="904" rx="51.5" ry="10" fill="#d1d0d4" stroke="#000" stroke-width="2.2"/><path d="M1080.7,969.5 H1273" stroke="#f4b183" stroke-width="4.6" stroke-dasharray="13.5 4.9"/><path d="M1272.5,962.5 L1295.5,969.3 L1272.5,976 Z" fill="#f4b183"/><text x="1075.89" y="949.10" font-size="20.5" font-weight="bold" font-style="italic" fill="#000" textLength="194.33" lengthAdjust="spacingAndGlyphs" >supported catalyst</text><path d="M1331.2,904.5 V872" stroke="#ff0000" stroke-width="4.2"/><path d="M1323.9,874 L1331.2,849.3 L1338.5,874 Z" fill="#ff0000"/><path d="M1331.7,1021.8 V1068" stroke="#ff0000" stroke-width="4.4"/><path d="M1324.3,1054.8 L1331.7,1037 L1339.1,1054.8 Z" fill="#ff0000"/><circle cx="1281.2" cy="826.4" r="8" fill="url(#gO)"/><circle cx="1296.5" cy="826.4" r="8" fill="url(#gO)"/><path d="M1322.3,821.0 H1342.8999999999999 M1332.6,810.7 V831.3" stroke="#000" stroke-width="2.9"/><path d="M1372.9,821.4 L1363.0,828.6" stroke="#e02020" stroke-width="3.4"/><path d="M1363.0,828.6 L1353.1,835.8" stroke="#b8b8b8" stroke-width="3.4"/><path d="M1372.9,821.4 L1382.6,829.0" stroke="#e02020" stroke-width="3.4"/><path d="M1382.6,829.0 L1392.3,836.7" stroke="#b8b8b8" stroke-width="3.4"/><circle cx="1353.1" cy="835.8" r="4.3" fill="url(#gH)"/><circle cx="1392.3" cy="836.7" r="4.3" fill="url(#gH)"/><circle cx="1372.9" cy="821.4" r="7.0" fill="url(#gO)"/><path d="M1290.8,1088.2 L1280.5,1095.9" stroke="#e02020" stroke-width="3.4"/><path d="M1280.5,1095.9 L1270.3,1103.6" stroke="#b8b8b8" stroke-width="3.4"/><path d="M1290.8,1088.2 L1300.6,1096.2" stroke="#e02020" stroke-width="3.4"/><path d="M1300.6,1096.2 L1310.4,1104.3" stroke="#b8b8b8" stroke-width="3.4"/><circle cx="1270.3" cy="1103.6" r="4.7" fill="url(#gH)"/><circle cx="1310.4" cy="1104.3" r="4.7" fill="url(#gH)"/><circle cx="1290.8" cy="1088.2" r="7.4" fill="url(#gO)"/><path d="M1322.1,1094.0 H1342.1 M1332.1,1084.0 V1104.0" stroke="#000" stroke-width="2.9"/><circle cx="1360.3" cy="1098.7" r="7.4" fill="url(#gO)"/><circle cx="1385.2" cy="1097.2" r="7.4" fill="url(#gO)"/><circle cx="1372.4" cy="1090.2" r="7.4" fill="url(#gO)"/><path d="M878,637.6 Q879.5,690 883.8,723 L887.4,725.4" stroke="#ff0000" stroke-width="3.2" fill="none"/><path d="M880.70,726.20 L887.40,725.40 L893.50,729.40 L900.40,727.00 L905.50,732.60 L911.10,731.80 L917.50,731.00 L923.90,723.00 L929.50,730.20 L935.50,735.80 L941.50,741.40 L947.10,741.40 L953.40,742.20 L959.50,745.40 L965.10,745.90 L971.40,743.80 L977.40,749.40 L983.30,753.00 L989.90,741.40 L995.80,742.20 L1001.40,744.60 L1007.00,751.80 L1013.40,750.20 L1019.00,751.80 L1025.40,757.40 L1031.50,739.50 L1036.90,744.60 L1043.00,749.40 L1049.10,753.40 L1055.00,755.00 L1060.60,763.00 L1066.70,762.20 L1072.60,767.00 L1079.40,763.40 L1084.90,772.60 L1090.60,771.50 L1097.00,769.40 L1102.90,771.30 L1108.90,775.50 L1114.60,769.20 L1120.60,770.10 L1127.00,770.10 L1132.90,776.10 L1138.50,779.40 L1144.30,773.50 L1150.90,768.80 L1156.50,772.10 L1162.10,772.80 L1167.90,769.50 L1173.90,769.20 L1179.90,768.10 L1186.10,769.50 L1192.50,770.10 L1198.10,772.80 L1204.20,766.10 L1210.10,766.80 L1216.20,766.10 L1222.20,769.50 L1228.20,766.80 L1234.10,771.50 L1240.20,769.50 L1246.10,770.10 L1252.20,770.10 L1258.10,771.10 L1264.50,765.20 L1270.50,778.50 L1276.50,772.10 L1282.40,774.10 L1288.20,778.30 L1294.30,768.10 L1299.20,777.20 L1305.20,773.90 L1311.20,778.10 L1316.80,769.50 L1322.50,771.50 L1329.20,768.80 L1334.90,780.10 L1340.50,779.70 L1346.90,774.80 L1352.50,777.50 L1358.50,777.50 L1364.50,780.10 L1370.50,776.80 L1376.50,776.80 L1382.90,772.80 L1388.50,777.50 L1394.50,777.50 L1400.50,775.50 L1406.50,778.10 L1412.50,778.10 L1418.50,778.80 L1424.50,782.80 L1430.50,782.10 L1436.50,786.10 L1442.90,784.80 L1448.50,788.10 L1454.50,785.50 L1460.50,785.50 L1466.50,781.50 L1471.80,780.80" stroke="#ff0000" stroke-width="3.2" fill="none" stroke-linejoin="round"/><circle cx="878.00" cy="637.60" r="6.4" fill="url(#gR)"/><circle cx="880.70" cy="726.20" r="6.4" fill="url(#gR)"/><circle cx="887.40" cy="725.40" r="6.4" fill="url(#gR)"/><circle cx="893.50" cy="729.40" r="6.4" fill="url(#gR)"/><circle cx="900.40" cy="727.00" r="6.4" fill="url(#gR)"/><circle cx="905.50" cy="732.60" r="6.4" fill="url(#gR)"/><circle cx="911.10" cy="731.80" r="6.4" fill="url(#gR)"/><circle cx="917.50" cy="731.00" r="6.4" fill="url(#gR)"/><circle cx="923.90" cy="723.00" r="6.4" fill="url(#gR)"/><circle cx="929.50" cy="730.20" r="6.4" fill="url(#gR)"/><circle cx="935.50" cy="735.80" r="6.4" fill="url(#gR)"/><circle cx="941.50" cy="741.40" r="6.4" fill="url(#gR)"/><circle cx="947.10" cy="741.40" r="6.4" fill="url(#gR)"/><circle cx="953.40" cy="742.20" r="6.4" fill="url(#gR)"/><circle cx="959.50" cy="745.40" r="6.4" fill="url(#gR)"/><circle cx="965.10" cy="745.90" r="6.4" fill="url(#gR)"/><circle cx="971.40" cy="743.80" r="6.4" fill="url(#gR)"/><circle cx="977.40" cy="749.40" r="6.4" fill="url(#gR)"/><circle cx="983.30" cy="753.00" r="6.4" fill="url(#gR)"/><circle cx="989.90" cy="741.40" r="6.4" fill="url(#gR)"/><circle cx="995.80" cy="742.20" r="6.4" fill="url(#gR)"/><circle cx="1001.40" cy="744.60" r="6.4" fill="url(#gR)"/><circle cx="1007.00" cy="751.80" r="6.4" fill="url(#gR)"/><circle cx="1013.40" cy="750.20" r="6.4" fill="url(#gR)"/><circle cx="1019.00" cy="751.80" r="6.4" fill="url(#gR)"/><circle cx="1025.40" cy="757.40" r="6.4" fill="url(#gR)"/><circle cx="1031.50" cy="739.50" r="6.4" fill="url(#gR)"/><circle cx="1036.90" cy="744.60" r="6.4" fill="url(#gR)"/><circle cx="1043.00" cy="749.40" r="6.4" fill="url(#gR)"/><circle cx="1049.10" cy="753.40" r="6.4" fill="url(#gR)"/><circle cx="1055.00" cy="755.00" r="6.4" fill="url(#gR)"/><circle cx="1060.60" cy="763.00" r="6.4" fill="url(#gR)"/><circle cx="1066.70" cy="762.20" r="6.4" fill="url(#gR)"/><circle cx="1072.60" cy="767.00" r="6.4" fill="url(#gR)"/><circle cx="1079.40" cy="763.40" r="6.4" fill="url(#gR)"/><circle cx="1084.90" cy="772.60" r="6.4" fill="url(#gR)"/><circle cx="1090.60" cy="771.50" r="6.4" fill="url(#gR)"/><circle cx="1097.00" cy="769.40" r="6.4" fill="url(#gR)"/><circle cx="1102.90" cy="771.30" r="6.4" fill="url(#gR)"/><circle cx="1108.90" cy="775.50" r="6.4" fill="url(#gR)"/><circle cx="1114.60" cy="769.20" r="6.4" fill="url(#gR)"/><circle cx="1120.60" cy="770.10" r="6.4" fill="url(#gR)"/><circle cx="1127.00" cy="770.10" r="6.4" fill="url(#gR)"/><circle cx="1132.90" cy="776.10" r="6.4" fill="url(#gR)"/><circle cx="1138.50" cy="779.40" r="6.4" fill="url(#gR)"/><circle cx="1144.30" cy="773.50" r="6.4" fill="url(#gR)"/><circle cx="1150.90" cy="768.80" r="6.4" fill="url(#gR)"/><circle cx="1156.50" cy="772.10" r="6.4" fill="url(#gR)"/><circle cx="1162.10" cy="772.80" r="6.4" fill="url(#gR)"/><circle cx="1167.90" cy="769.50" r="6.4" fill="url(#gR)"/><circle cx="1173.90" cy="769.20" r="6.4" fill="url(#gR)"/><circle cx="1179.90" cy="768.10" r="6.4" fill="url(#gR)"/><circle cx="1186.10" cy="769.50" r="6.4" fill="url(#gR)"/><circle cx="1192.50" cy="770.10" r="6.4" fill="url(#gR)"/><circle cx="1198.10" cy="772.80" r="6.4" fill="url(#gR)"/><circle cx="1204.20" cy="766.10" r="6.4" fill="url(#gR)"/><circle cx="1210.10" cy="766.80" r="6.4" fill="url(#gR)"/><circle cx="1216.20" cy="766.10" r="6.4" fill="url(#gR)"/><circle cx="1222.20" cy="769.50" r="6.4" fill="url(#gR)"/><circle cx="1228.20" cy="766.80" r="6.4" fill="url(#gR)"/><circle cx="1234.10" cy="771.50" r="6.4" fill="url(#gR)"/><circle cx="1240.20" cy="769.50" r="6.4" fill="url(#gR)"/><circle cx="1246.10" cy="770.10" r="6.4" fill="url(#gR)"/><circle cx="1252.20" cy="770.10" r="6.4" fill="url(#gR)"/><circle cx="1258.10" cy="771.10" r="6.4" fill="url(#gR)"/><circle cx="1264.50" cy="765.20" r="6.4" fill="url(#gR)"/><circle cx="1270.50" cy="778.50" r="6.4" fill="url(#gR)"/><circle cx="1276.50" cy="772.10" r="6.4" fill="url(#gR)"/><circle cx="1282.40" cy="774.10" r="6.4" fill="url(#gR)"/><circle cx="1288.20" cy="778.30" r="6.4" fill="url(#gR)"/><circle cx="1294.30" cy="768.10" r="6.4" fill="url(#gR)"/><circle cx="1299.20" cy="777.20" r="6.4" fill="url(#gR)"/><circle cx="1305.20" cy="773.90" r="6.4" fill="url(#gR)"/><circle cx="1311.20" cy="778.10" r="6.4" fill="url(#gR)"/><circle cx="1316.80" cy="769.50" r="6.4" fill="url(#gR)"/><circle cx="1322.50" cy="771.50" r="6.4" fill="url(#gR)"/><circle cx="1329.20" cy="768.80" r="6.4" fill="url(#gR)"/><circle cx="1334.90" cy="780.10" r="6.4" fill="url(#gR)"/><circle cx="1340.50" cy="779.70" r="6.4" fill="url(#gR)"/><circle cx="1346.90" cy="774.80" r="6.4" fill="url(#gR)"/><circle cx="1352.50" cy="777.50" r="6.4" fill="url(#gR)"/><circle cx="1358.50" cy="777.50" r="6.4" fill="url(#gR)"/><circle cx="1364.50" cy="780.10" r="6.4" fill="url(#gR)"/><circle cx="1370.50" cy="776.80" r="6.4" fill="url(#gR)"/><circle cx="1376.50" cy="776.80" r="6.4" fill="url(#gR)"/><circle cx="1382.90" cy="772.80" r="6.4" fill="url(#gR)"/><circle cx="1388.50" cy="777.50" r="6.4" fill="url(#gR)"/><circle cx="1394.50" cy="777.50" r="6.4" fill="url(#gR)"/><circle cx="1400.50" cy="775.50" r="6.4" fill="url(#gR)"/><circle cx="1406.50" cy="778.10" r="6.4" fill="url(#gR)"/><circle cx="1412.50" cy="778.10" r="6.4" fill="url(#gR)"/><circle cx="1418.50" cy="778.80" r="6.4" fill="url(#gR)"/><circle cx="1424.50" cy="782.80" r="6.4" fill="url(#gR)"/><circle cx="1430.50" cy="782.10" r="6.4" fill="url(#gR)"/><circle cx="1436.50" cy="786.10" r="6.4" fill="url(#gR)"/><circle cx="1442.90" cy="784.80" r="6.4" fill="url(#gR)"/><circle cx="1448.50" cy="788.10" r="6.4" fill="url(#gR)"/><circle cx="1454.50" cy="785.50" r="6.4" fill="url(#gR)"/><circle cx="1460.50" cy="785.50" r="6.4" fill="url(#gR)"/><circle cx="1466.50" cy="781.50" r="6.4" fill="url(#gR)"/><circle cx="1471.80" cy="780.80" r="6.4" fill="url(#gR)"/></g><path d="M114.00,523.50 v10.3 M233.30,523.50 v10.3 M352.60,523.50 v10.3 M471.90,523.50 v10.3 M591.20,523.50 v10.3 M710.50,523.50 v10.3 M173.65,523.50 v5.4 M292.95,523.50 v5.4 M412.25,523.50 v5.4 M531.55,523.50 v5.4 M650.85,523.50 v5.4 M113.60,523.50 h-10.3 M113.60,473.60 h-10.3 M113.60,423.70 h-10.3 M113.60,373.80 h-10.3 M113.60,323.90 h-10.3 M113.60,274.00 h-10.3 M113.60,224.10 h-10.3 M113.60,174.20 h-10.3 M113.60,124.30 h-10.3 M113.60,74.40 h-10.3 M113.60,24.50 h-10.3 M113.60,498.55 h-5.4 M113.60,448.65 h-5.4 M113.60,398.75 h-5.4 M113.60,348.85 h-5.4 M113.60,298.95 h-5.4 M113.60,249.05 h-5.4 M113.60,199.15 h-5.4 M113.60,149.25 h-5.4 M113.60,99.35 h-5.4 M113.60,49.45 h-5.4" stroke="#000" stroke-width="2.0" stroke-linecap="round" fill="none"/><rect x="113.60" y="19.40" width="596.80" height="504.10" fill="none" stroke="#000" stroke-width="3.0" stroke-linejoin="round"/><path d="M875.70,521.50 v10.8 M975.59,521.50 v10.8 M1075.47,521.50 v10.8 M1175.36,521.50 v10.8 M1275.24,521.50 v10.8 M1375.12,521.50 v10.8 M1475.01,521.50 v10.8 M925.64,521.50 v5.8 M1025.53,521.50 v5.8 M1125.41,521.50 v5.8 M1225.30,521.50 v5.8 M1325.18,521.50 v5.8 M1425.07,521.50 v5.8 M875.70,521.40 h-10.8 M875.70,471.50 h-10.8 M875.70,421.60 h-10.8 M875.70,371.70 h-10.8 M875.70,321.80 h-10.8 M875.70,271.90 h-10.8 M875.70,222.00 h-10.8 M875.70,172.10 h-10.8 M875.70,122.20 h-10.8 M875.70,72.30 h-10.8 M875.70,22.40 h-10.8 M875.70,496.45 h-5.8 M875.70,446.55 h-5.8 M875.70,396.65 h-5.8 M875.70,346.75 h-5.8 M875.70,296.85 h-5.8 M875.70,246.95 h-5.8 M875.70,197.05 h-5.8 M875.70,147.15 h-5.8 M875.70,97.25 h-5.8 M875.70,47.35 h-5.8" stroke="#000" stroke-width="2.6" stroke-linecap="round" fill="none"/><rect x="875.70" y="17.30" width="599.30" height="504.20" fill="none" stroke="#000" stroke-width="3.0" stroke-linejoin="round"/><path d="M113.50,1138.00 v11.0 M175.90,1138.00 v11.0 M238.30,1138.00 v11.0 M300.70,1138.00 v11.0 M363.10,1138.00 v11.0 M425.50,1138.00 v11.0 M487.90,1138.00 v11.0 M550.30,1138.00 v11.0 M612.70,1138.00 v11.0 M675.10,1138.00 v11.0 M144.70,1138.00 v5.8 M207.10,1138.00 v5.8 M269.50,1138.00 v5.8 M331.90,1138.00 v5.8 M394.30,1138.00 v5.8 M456.70,1138.00 v5.8 M519.10,1138.00 v5.8 M581.50,1138.00 v5.8 M643.90,1138.00 v5.8 M706.30,1138.00 v5.8 M113.50,1138.00 h-11.0 M113.50,1090.00 h-11.0 M113.50,1042.00 h-11.0 M113.50,994.00 h-11.0 M113.50,946.00 h-11.0 M113.50,898.00 h-11.0 M113.50,850.00 h-11.0 M113.50,802.00 h-11.0 M113.50,754.00 h-11.0 M113.50,706.00 h-11.0 M113.50,658.00 h-11.0 M113.50,1114.00 h-5.8 M113.50,1066.00 h-5.8 M113.50,1018.00 h-5.8 M113.50,970.00 h-5.8 M113.50,922.00 h-5.8 M113.50,874.00 h-5.8 M113.50,826.00 h-5.8 M113.50,778.00 h-5.8 M113.50,730.00 h-5.8 M113.50,682.00 h-5.8" stroke="#000" stroke-width="2.6" stroke-linecap="round" fill="none"/><rect x="113.50" y="633.80" width="598.90" height="504.20" fill="none" stroke="#000" stroke-width="3.0" stroke-linejoin="round"/><path d="M875.70,1137.40 v10.6 M935.50,1137.40 v10.6 M995.30,1137.40 v10.6 M1055.10,1137.40 v10.6 M1114.90,1137.40 v10.6 M1174.70,1137.40 v10.6 M1234.50,1137.40 v10.6 M1294.30,1137.40 v10.6 M1354.10,1137.40 v10.6 M1413.90,1137.40 v10.6 M1473.70,1137.40 v10.6 M905.60,1137.40 v5.6 M965.40,1137.40 v5.6 M1025.20,1137.40 v5.6 M1085.00,1137.40 v5.6 M1144.80,1137.40 v5.6 M1204.60,1137.40 v5.6 M1264.40,1137.40 v5.6 M1324.20,1137.40 v5.6 M1384.00,1137.40 v5.6 M1443.80,1137.40 v5.6 M875.70,1137.50 h-10.6 M875.70,1087.50 h-10.6 M875.70,1037.50 h-10.6 M875.70,987.50 h-10.6 M875.70,937.50 h-10.6 M875.70,887.50 h-10.6 M875.70,837.50 h-10.6 M875.70,787.50 h-10.6 M875.70,737.50 h-10.6 M875.70,687.50 h-10.6 M875.70,637.50 h-10.6 M875.70,1112.50 h-5.6 M875.70,1062.50 h-5.6 M875.70,1012.50 h-5.6 M875.70,962.50 h-5.6 M875.70,912.50 h-5.6 M875.70,862.50 h-5.6 M875.70,812.50 h-5.6 M875.70,762.50 h-5.6 M875.70,712.50 h-5.6 M875.70,662.50 h-5.6" stroke="#000" stroke-width="2.8" stroke-linecap="round" fill="none"/><rect x="875.70" y="632.70" width="598.00" height="504.70" fill="none" stroke="#000" stroke-width="3.2" stroke-linejoin="round"/><text x="105.92" y="563.50" font-size="30.6" fill="#000" textLength="16.17" lengthAdjust="spacingAndGlyphs">0</text><text x="216.96" y="563.50" font-size="30.6" fill="#000" textLength="32.34" lengthAdjust="spacingAndGlyphs">20</text><text x="336.64" y="563.50" font-size="30.6" fill="#000" textLength="32.34" lengthAdjust="spacingAndGlyphs">40</text><text x="455.56" y="563.50" font-size="30.6" fill="#000" textLength="32.34" lengthAdjust="spacingAndGlyphs">60</text><text x="574.96" y="563.50" font-size="30.6" fill="#000" textLength="32.34" lengthAdjust="spacingAndGlyphs">80</text><text x="685.71" y="563.50" font-size="30.6" fill="#000" textLength="48.50" lengthAdjust="spacingAndGlyphs">100</text><text x="82.59" y="531.70" font-size="30.6" fill="#000" textLength="16.17" lengthAdjust="spacingAndGlyphs">0</text><text x="66.45" y="481.80" font-size="30.6" fill="#000" textLength="32.34" lengthAdjust="spacingAndGlyphs">10</text><text x="66.45" y="431.90" font-size="30.6" fill="#000" textLength="32.34" lengthAdjust="spacingAndGlyphs">20</text><text x="66.45" y="382.00" font-size="30.6" fill="#000" textLength="32.34" lengthAdjust="spacingAndGlyphs">30</text><text x="66.45" y="332.10" font-size="30.6" fill="#000" textLength="32.34" lengthAdjust="spacingAndGlyphs">40</text><text x="66.45" y="282.20" font-size="30.6" fill="#000" textLength="32.34" lengthAdjust="spacingAndGlyphs">50</text><text x="66.45" y="232.30" font-size="30.6" fill="#000" textLength="32.34" lengthAdjust="spacingAndGlyphs">60</text><text x="66.45" y="182.40" font-size="30.6" fill="#000" textLength="32.34" lengthAdjust="spacingAndGlyphs">70</text><text x="66.45" y="132.50" font-size="30.6" fill="#000" textLength="32.34" lengthAdjust="spacingAndGlyphs">80</text><text x="66.45" y="82.60" font-size="30.6" fill="#000" textLength="32.34" lengthAdjust="spacingAndGlyphs">90</text><text x="50.30" y="32.70" font-size="30.6" fill="#000" textLength="48.50" lengthAdjust="spacingAndGlyphs">100</text><path d="M428.5,369.4 H485" stroke="#008080" stroke-width="2.6" stroke-linecap="round"/><circle cx="456.4" cy="369.4" r="6.2" fill="url(#gT)"/><path d="M428.5,399.2 H485" stroke="#ff00ff" stroke-width="3.0" stroke-linecap="round"/><circle cx="456.4" cy="399.2" r="6.2" fill="url(#gM)"/><path d="M428.5,429.6 H485" stroke="#0000ff" stroke-width="3.0" stroke-linecap="round"/><circle cx="456.4" cy="429.6" r="6.2" fill="url(#gB)"/><path d="M428.5,460.0 H485" stroke="#000" stroke-width="3.2" stroke-linecap="round"/><circle cx="456.4" cy="460.0" r="6.2" fill="url(#gK)"/><path d="M428.5,490.6 H485" stroke="#ff0000" stroke-width="3.2" stroke-linecap="round"/><circle cx="456.4" cy="490.6" r="6.2" fill="url(#gR)"/><text x="490.31" y="377.30" fill="#000" textLength="36.81" lengthAdjust="spacingAndGlyphs"><tspan font-size="24" font-weight="bold">GO</tspan></text><text x="490.34" y="407.60" fill="#000" textLength="34.55" lengthAdjust="spacingAndGlyphs"><tspan font-size="24" font-weight="bold">GR</tspan></text><text x="490.32" y="437.30" fill="#000" textLength="104.85" lengthAdjust="spacingAndGlyphs"><tspan font-size="24" font-weight="bold">GO/MnO</tspan><tspan font-size="18.5" font-weight="bold">2</tspan></text><text x="490.30" y="467.90" fill="#000" textLength="84.29" lengthAdjust="spacingAndGlyphs"><tspan font-size="22" font-weight="normal">α</tspan><tspan font-size="24" font-weight="bold">-MnO</tspan><tspan font-size="18.5" font-weight="bold">2</tspan></text><text x="490.23" y="497.90" fill="#000" textLength="191.16" lengthAdjust="spacingAndGlyphs"><tspan font-size="24" font-weight="bold">7.50% MnO</tspan><tspan font-size="18.5" font-weight="bold">2</tspan><tspan font-size="24" font-weight="bold">@GR</tspan></text><text x="-1.27" y="58.50" font-size="63" font-weight="bold" fill="#000" textLength="30.57" lengthAdjust="spacingAndGlyphs" >a</text><text x="580.05" y="54.10" font-size="30" font-weight="bold" fill="#000" textLength="111.78" lengthAdjust="spacingAndGlyphs" >RH=20%</text><text x="289.14" y="597.60" font-size="31" font-weight="bold" fill="#000" textLength="246.80" lengthAdjust="spacingAndGlyphs" >Reaction time (h)</text><text transform="translate(49.30,423.50) rotate(-90)" x="-1.20" y="0" font-size="31.5" font-weight="bold" fill="#000" textLength="331.20" lengthAdjust="spacingAndGlyphs">Ozone conversion (%)</text><text x="867.67" y="562.90" font-size="30.4" fill="#000" textLength="16.06" lengthAdjust="spacingAndGlyphs">0</text><text x="967.56" y="562.90" font-size="30.4" fill="#000" textLength="16.06" lengthAdjust="spacingAndGlyphs">5</text><text x="1058.85" y="562.90" font-size="30.4" fill="#000" textLength="32.12" lengthAdjust="spacingAndGlyphs">10</text><text x="1158.78" y="562.90" font-size="30.4" fill="#000" textLength="32.12" lengthAdjust="spacingAndGlyphs">15</text><text x="1259.00" y="562.90" font-size="30.4" fill="#000" textLength="32.12" lengthAdjust="spacingAndGlyphs">20</text><text x="1358.93" y="562.90" font-size="30.4" fill="#000" textLength="32.12" lengthAdjust="spacingAndGlyphs">25</text><text x="1458.96" y="562.90" font-size="30.4" fill="#000" textLength="32.12" lengthAdjust="spacingAndGlyphs">30</text><text x="842.89" y="529.30" font-size="30.4" fill="#000" textLength="16.06" lengthAdjust="spacingAndGlyphs">0</text><text x="826.84" y="479.40" font-size="30.4" fill="#000" textLength="32.12" lengthAdjust="spacingAndGlyphs">10</text><text x="826.84" y="429.50" font-size="30.4" fill="#000" textLength="32.12" lengthAdjust="spacingAndGlyphs">20</text><text x="826.84" y="379.60" font-size="30.4" fill="#000" textLength="32.12" lengthAdjust="spacingAndGlyphs">30</text><text x="826.84" y="329.70" font-size="30.4" fill="#000" textLength="32.12" lengthAdjust="spacingAndGlyphs">40</text><text x="826.84" y="279.80" font-size="30.4" fill="#000" textLength="32.12" lengthAdjust="spacingAndGlyphs">50</text><text x="826.84" y="229.90" font-size="30.4" fill="#000" textLength="32.12" lengthAdjust="spacingAndGlyphs">60</text><text x="826.84" y="180.00" font-size="30.4" fill="#000" textLength="32.12" lengthAdjust="spacingAndGlyphs">70</text><text x="826.84" y="130.10" font-size="30.4" fill="#000" textLength="32.12" lengthAdjust="spacingAndGlyphs">80</text><text x="826.84" y="80.20" font-size="30.4" fill="#000" textLength="32.12" lengthAdjust="spacingAndGlyphs">90</text><text x="810.78" y="30.30" font-size="30.4" fill="#000" textLength="48.19" lengthAdjust="spacingAndGlyphs">100</text><path d="M891,460 H953.7" stroke="#ff0000" stroke-width="3.2" stroke-linecap="round"/><circle cx="922" cy="460" r="6.5" fill="url(#gR)"/><path d="M891,494.3 H953.7" stroke="#000" stroke-width="3.2" stroke-linecap="round"/><circle cx="922" cy="494.3" r="6.5" fill="url(#gK)"/><text x="959.50" y="469.60" fill="#000" textLength="221.59" lengthAdjust="spacingAndGlyphs"><tspan font-size="24.5" font-weight="bold">7.50% MnO</tspan><tspan font-size="19" font-weight="bold">2</tspan><tspan font-size="24.5" font-weight="bold">@GR</tspan></text><text x="959.59" y="502.10" fill="#000" textLength="96.96" lengthAdjust="spacingAndGlyphs"><tspan font-size="23" font-weight="normal">α</tspan><tspan font-size="24.5" font-weight="bold">-MnO</tspan><tspan font-size="19" font-weight="bold">2</tspan></text><text x="754.69" y="63.60" font-size="61.5" font-weight="bold" fill="#000" textLength="37.69" lengthAdjust="spacingAndGlyphs" >b</text><text x="1344.87" y="52.80" font-size="30" font-weight="bold" fill="#000" textLength="116.60" lengthAdjust="spacingAndGlyphs" >RH=50%</text><text x="1047.84" y="600.40" font-size="30.5" font-weight="bold" fill="#000" textLength="254.71" lengthAdjust="spacingAndGlyphs" >Reaction time (h)</text><text transform="translate(805.60,454.40) rotate(-90)" x="-1.20" y="0" font-size="31.5" font-weight="bold" fill="#000" textLength="330.19" lengthAdjust="spacingAndGlyphs">Ozone conversion (%)</text><text x="952.37" y="52.40" font-size="21" font-weight="bold" fill="#000" textLength="111.72" lengthAdjust="spacingAndGlyphs" >110°C-2 h</text><path d="M955.1,62 H1043.7" stroke="#000" stroke-width="2.2"/><path d="M1040.7,58.2 L1055.7,62 L1040.7,65.8 Z" fill="#000"/><text x="1150.37" y="52.40" font-size="21" font-weight="bold" fill="#000" textLength="111.41" lengthAdjust="spacingAndGlyphs" >110°C-2 h</text><path d="M1153.6,62 H1241.9" stroke="#000" stroke-width="2.2"/><path d="M1238.9,58.2 L1253.9,62 L1238.9,65.8 Z" fill="#000"/><text x="983.61" y="83.90" font-size="21" font-weight="bold" fill="#000" textLength="34.62" lengthAdjust="spacingAndGlyphs" >Air</text><text x="1181.30" y="83.90" font-size="21" font-weight="bold" fill="#000" textLength="34.72" lengthAdjust="spacingAndGlyphs" >Air</text><text x="932.78" y="412.50" font-size="24.5" font-weight="bold" font-style="italic" fill="#ff0000" textLength="111.69" lengthAdjust="spacingAndGlyphs" >1st cycle</text><text x="1118.54" y="412.50" font-size="24.5" font-weight="bold" font-style="italic" fill="#ff0000" textLength="123.20" lengthAdjust="spacingAndGlyphs" >2nd cycle</text><text x="1321.79" y="411.80" font-size="24.5" font-weight="bold" font-style="italic" fill="#ff0000" textLength="117.62" lengthAdjust="spacingAndGlyphs" >3rd cycle</text><rect x="417.4" y="847.7" width="274.4" height="233.0999999999999" fill="#fefefe"/><path d="M417.4,901.6 H691.8" stroke="#00ee00" stroke-width="1.7" stroke-dasharray="2.2 2.6"/><path d="M418.50,873.90 C419.42,873.90 422.58,873.80 424.00,873.90 C425.42,874.00 426.00,873.57 427.00,874.50 C428.00,875.43 428.92,877.08 430.00,879.50 C431.08,881.92 432.27,885.67 433.50,889.00 C434.73,892.33 436.75,897.75 437.40,899.50" stroke="#000" stroke-width="4.2" fill="none" stroke-linecap="round"/><path d="M626.00,874.00 C626.00,879.50 625.57,897.25 626.00,907.00 C626.43,916.75 627.82,922.37 628.60,932.50 C629.38,942.63 630.02,957.00 630.70,967.80 C631.38,978.60 631.85,988.60 632.70,997.30 C633.55,1006.00 634.58,1014.47 635.80,1020.00 C637.02,1025.53 638.38,1028.00 640.00,1030.50 C641.62,1033.00 644.58,1034.25 645.50,1035.00" stroke="#000" stroke-width="4.6" fill="none" stroke-linecap="round"/><circle cx="626.00" cy="874.50" r="2.9" fill="url(#gK)"/><circle cx="626.00" cy="883.40" r="2.9" fill="url(#gK)"/><circle cx="626.00" cy="893.20" r="2.9" fill="url(#gK)"/><circle cx="626.00" cy="902.00" r="2.9" fill="url(#gK)"/><path d="M439.2,900.8 V874 M647.6,1037.5 V874" stroke="#ff0000" stroke-width="1.6"/><path d="M439.2,874 H625 M647.6,874" stroke="#ff0000" stroke-width="6.2" stroke-linecap="round"/><path d="M647.6,874 H690.6" stroke="#ff0000" stroke-width="6.2"/><circle cx="647.6" cy="874" r="3.1" fill="#ff0000"/><circle cx="439.20" cy="899.50" r="3.0" fill="url(#gR)"/><circle cx="439.20" cy="892.00" r="3.0" fill="url(#gR)"/><circle cx="439.20" cy="882.60" r="3.0" fill="url(#gR)"/><circle cx="439.20" cy="877.30" r="3.0" fill="url(#gR)"/><circle cx="647.60" cy="879.50" r="3.0" fill="url(#gR)"/><circle cx="647.60" cy="892.80" r="3.0" fill="url(#gR)"/><circle cx="647.60" cy="920.30" r="3.0" fill="url(#gR)"/><circle cx="647.60" cy="963.50" r="3.0" fill="url(#gR)"/><circle cx="647.60" cy="1006.70" r="3.0" fill="url(#gR)"/><circle cx="647.60" cy="1031.70" r="3.0" fill="url(#gR)"/><circle cx="647.60" cy="1036.50" r="3.0" fill="url(#gR)"/><path d="M417.60,1080.80 v5.2 M459.62,1080.80 v5.2 M501.64,1080.80 v5.2 M543.66,1080.80 v5.2 M585.68,1080.80 v5.2 M627.70,1080.80 v5.2 M669.72,1080.80 v5.2 M438.61,1080.80 v3.0 M480.63,1080.80 v3.0 M522.65,1080.80 v3.0 M564.67,1080.80 v3.0 M606.69,1080.80 v3.0 M648.71,1080.80 v3.0 M690.73,1080.80 v3.0 M417.40,1080.60 h-5.2 M417.40,1028.82 h-5.2 M417.40,977.05 h-5.2 M417.40,925.27 h-5.2 M417.40,873.50 h-5.2 M417.40,1054.71 h-3.0 M417.40,1002.94 h-3.0 M417.40,951.16 h-3.0 M417.40,899.39 h-3.0 M417.40,847.61 h-3.0" stroke="#000" stroke-width="1.8" stroke-linecap="round" fill="none"/><rect x="417.40" y="847.70" width="274.40" height="233.10" fill="none" stroke="#000" stroke-width="2.4" stroke-linejoin="round"/><text x="413.00" y="1102.80" font-size="16.5" fill="#000">0</text><text x="455.02" y="1102.80" font-size="16.5" fill="#000">2</text><text x="497.14" y="1102.80" font-size="16.5" fill="#000">4</text><text x="539.01" y="1102.80" font-size="16.5" fill="#000">6</text><text x="581.08" y="1102.80" font-size="16.5" fill="#000">8</text><text x="618.20" y="1102.80" font-size="16.5" fill="#000">10</text><text x="660.32" y="1102.80" font-size="16.5" fill="#000">12</text><text x="389.20" y="1085.90" font-size="18" fill="#000">60</text><text x="389.20" y="1034.12" font-size="18" fill="#000">70</text><text x="389.20" y="982.35" font-size="18" fill="#000">80</text><text x="389.20" y="930.57" font-size="18" fill="#000">90</text><text x="379.20" y="878.80" font-size="18" fill="#000">100</text><text x="482.88" y="1124.00" font-size="17.5" font-weight="bold" fill="#000" textLength="143.99" lengthAdjust="spacingAndGlyphs" >Reaction time (h)</text><text transform="translate(373.80,1053.50) rotate(-90)" x="-0.73" y="0" font-size="18" font-weight="bold" fill="#000" textLength="196.09" lengthAdjust="spacingAndGlyphs">Ozone conversion (%)</text><rect x="112.8" y="644.4" width="164.9" height="192.4" fill="none" stroke="#00ee00" stroke-width="3.6" stroke-dasharray="5.4 10.8" stroke-linecap="round" stroke-linejoin="round"/><path d="M277.8,793 L386,839" stroke="#00ee00" stroke-width="3.6" stroke-dasharray="5.0 12.4" stroke-linecap="round"/><path d="M394.5,835.6 L413,850.3 L389.3,847.3 Z" fill="#00ee00" stroke="#00ee00" stroke-width="1.2" stroke-linejoin="round"/><text x="125.04" y="882.30" font-size="23" font-weight="bold" fill="#ff0000" textLength="225.62" lengthAdjust="spacingAndGlyphs" >switch the gas flow</text><path d="M220.9,861.5 L240,828.4" stroke="#ff0000" stroke-width="2.4"/><path d="M247,816.8 L243.2,833.8 L234.6,828.8 Z" fill="#ff0000"/><text x="458.84" y="812.00" font-size="23" font-weight="bold" fill="#000" textLength="226.72" lengthAdjust="spacingAndGlyphs" >switch the gas flow</text><path d="M557.5,790.8 L592,716.5" stroke="#000" stroke-width="2.4"/><path d="M597.2,705.2 L596.6,722.6 L587.6,718.4 Z" fill="#000"/><path d="M128.2,1076.6 H190.4" stroke="#000" stroke-width="1.9" stroke-linecap="round"/><circle cx="159" cy="1076.6" r="5.9" fill="url(#gK)"/><path d="M128.2,1109.6 H190.4" stroke="#ff0000" stroke-width="1.9" stroke-linecap="round"/><circle cx="159" cy="1109.6" r="5.9" fill="url(#gR)"/><text x="196.53" y="1085.90" font-size="25.5" font-weight="bold" fill="#000" textLength="106.95" lengthAdjust="spacingAndGlyphs" >RH=50%</text><text x="196.53" y="1119.00" font-size="25.5" font-weight="bold" fill="#000" textLength="106.95" lengthAdjust="spacingAndGlyphs" >RH=20%</text><text x="-0.83" y="672.90" font-size="63" font-weight="bold" fill="#000" textLength="34.01" lengthAdjust="spacingAndGlyphs" >c</text><text x="285.77" y="1212.40" font-size="31" font-weight="bold" fill="#000" textLength="254.91" lengthAdjust="spacingAndGlyphs" >Reaction time (h)</text><text transform="translate(47.20,1053.80) rotate(-90)" x="-1.20" y="0" font-size="31.5" font-weight="bold" fill="#000" textLength="329.49" lengthAdjust="spacingAndGlyphs">Ozone conversion (%)</text><text x="105.66" y="1177.80" font-size="29.6" fill="#000" textLength="15.64" lengthAdjust="spacingAndGlyphs">0</text><text x="168.11" y="1177.80" font-size="29.6" fill="#000" textLength="15.64" lengthAdjust="spacingAndGlyphs">5</text><text x="222.10" y="1177.80" font-size="29.6" fill="#000" textLength="31.28" lengthAdjust="spacingAndGlyphs">10</text><text x="284.55" y="1177.80" font-size="29.6" fill="#000" textLength="31.28" lengthAdjust="spacingAndGlyphs">15</text><text x="347.28" y="1177.80" font-size="29.6" fill="#000" textLength="31.28" lengthAdjust="spacingAndGlyphs">20</text><text x="409.73" y="1177.80" font-size="29.6" fill="#000" textLength="31.28" lengthAdjust="spacingAndGlyphs">25</text><text x="472.23" y="1177.80" font-size="29.6" fill="#000" textLength="31.28" lengthAdjust="spacingAndGlyphs">30</text><text x="534.67" y="1177.80" font-size="29.6" fill="#000" textLength="31.28" lengthAdjust="spacingAndGlyphs">35</text><text x="597.26" y="1177.80" font-size="29.6" fill="#000" textLength="31.28" lengthAdjust="spacingAndGlyphs">40</text><text x="659.71" y="1177.80" font-size="29.6" fill="#000" textLength="31.28" lengthAdjust="spacingAndGlyphs">45</text><text x="80.97" y="1146.00" font-size="29.6" fill="#000" textLength="15.64" lengthAdjust="spacingAndGlyphs">0</text><text x="65.30" y="1098.00" font-size="29.6" fill="#000" textLength="31.28" lengthAdjust="spacingAndGlyphs">10</text><text x="65.30" y="1050.00" font-size="29.6" fill="#000" textLength="31.28" lengthAdjust="spacingAndGlyphs">20</text><text x="65.30" y="1002.00" font-size="29.6" fill="#000" textLength="31.28" lengthAdjust="spacingAndGlyphs">30</text><text x="65.30" y="954.00" font-size="29.6" fill="#000" textLength="31.28" lengthAdjust="spacingAndGlyphs">40</text><text x="65.30" y="906.00" font-size="29.6" fill="#000" textLength="31.28" lengthAdjust="spacingAndGlyphs">50</text><text x="65.30" y="858.00" font-size="29.6" fill="#000" textLength="31.28" lengthAdjust="spacingAndGlyphs">60</text><text x="65.30" y="810.00" font-size="29.6" fill="#000" textLength="31.28" lengthAdjust="spacingAndGlyphs">70</text><text x="65.30" y="762.00" font-size="29.6" fill="#000" textLength="31.28" lengthAdjust="spacingAndGlyphs">80</text><text x="65.30" y="714.00" font-size="29.6" fill="#000" textLength="31.28" lengthAdjust="spacingAndGlyphs">90</text><text x="49.71" y="666.00" font-size="29.6" fill="#000" textLength="46.92" lengthAdjust="spacingAndGlyphs">100</text><text x="867.72" y="1177.10" font-size="30.2" fill="#000" textLength="15.96" lengthAdjust="spacingAndGlyphs">0</text><text x="918.97" y="1177.10" font-size="30.2" fill="#000" textLength="31.91" lengthAdjust="spacingAndGlyphs">10</text><text x="979.15" y="1177.10" font-size="30.2" fill="#000" textLength="31.91" lengthAdjust="spacingAndGlyphs">20</text><text x="1039.14" y="1177.10" font-size="30.2" fill="#000" textLength="31.91" lengthAdjust="spacingAndGlyphs">30</text><text x="1099.18" y="1177.10" font-size="30.2" fill="#000" textLength="31.91" lengthAdjust="spacingAndGlyphs">40</text><text x="1158.69" y="1177.10" font-size="30.2" fill="#000" textLength="31.91" lengthAdjust="spacingAndGlyphs">50</text><text x="1218.35" y="1177.10" font-size="30.2" fill="#000" textLength="31.91" lengthAdjust="spacingAndGlyphs">60</text><text x="1278.15" y="1177.10" font-size="30.2" fill="#000" textLength="31.91" lengthAdjust="spacingAndGlyphs">70</text><text x="1338.05" y="1177.10" font-size="30.2" fill="#000" textLength="31.91" lengthAdjust="spacingAndGlyphs">80</text><text x="1397.80" y="1177.10" font-size="30.2" fill="#000" textLength="31.91" lengthAdjust="spacingAndGlyphs">90</text><text x="1449.19" y="1177.10" font-size="30.2" fill="#000" textLength="47.87" lengthAdjust="spacingAndGlyphs">100</text><text x="843.19" y="1145.70" font-size="30.2" fill="#000" textLength="15.96" lengthAdjust="spacingAndGlyphs">0</text><text x="827.23" y="1095.70" font-size="30.2" fill="#000" textLength="31.91" lengthAdjust="spacingAndGlyphs">10</text><text x="827.23" y="1045.70" font-size="30.2" fill="#000" textLength="31.91" lengthAdjust="spacingAndGlyphs">20</text><text x="827.23" y="995.70" font-size="30.2" fill="#000" textLength="31.91" lengthAdjust="spacingAndGlyphs">30</text><text x="827.23" y="945.70" font-size="30.2" fill="#000" textLength="31.91" lengthAdjust="spacingAndGlyphs">40</text><text x="827.23" y="895.70" font-size="30.2" fill="#000" textLength="31.91" lengthAdjust="spacingAndGlyphs">50</text><text x="827.23" y="845.70" font-size="30.2" fill="#000" textLength="31.91" lengthAdjust="spacingAndGlyphs">60</text><text x="827.23" y="795.70" font-size="30.2" fill="#000" textLength="31.91" lengthAdjust="spacingAndGlyphs">70</text><text x="827.23" y="745.70" font-size="30.2" fill="#000" textLength="31.91" lengthAdjust="spacingAndGlyphs">80</text><text x="827.23" y="695.70" font-size="30.2" fill="#000" textLength="31.91" lengthAdjust="spacingAndGlyphs">90</text><text x="811.26" y="645.70" font-size="30.2" fill="#000" textLength="47.87" lengthAdjust="spacingAndGlyphs">100</text><text x="754.62" y="677.60" font-size="62" font-weight="bold" fill="#000" textLength="37.51" lengthAdjust="spacingAndGlyphs" >d</text><text x="1337.06" y="671.00" font-size="30" font-weight="bold" fill="#000" textLength="117.01" lengthAdjust="spacingAndGlyphs" >RH=50%</text><text x="1048.25" y="1213.30" font-size="30.5" font-weight="bold" fill="#000" textLength="254.00" lengthAdjust="spacingAndGlyphs" >Reaction time (h)</text><text transform="translate(805.60,1053.20) rotate(-90)" x="-1.20" y="0" font-size="31.5" font-weight="bold" fill="#000" textLength="329.79" lengthAdjust="spacingAndGlyphs">Ozone conversion (%)</text>
</svg></body></html>
